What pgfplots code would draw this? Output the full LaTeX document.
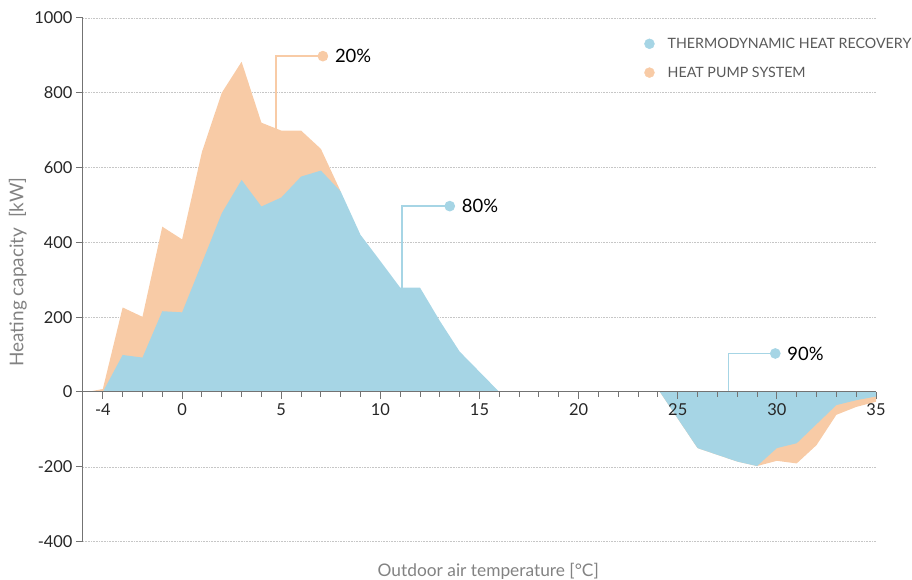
\documentclass[border=0pt]{standalone}
\usepackage{fontspec}
\setmainfont{Lato}
\usepackage{pgfplots}
\pgfplotsset{compat=1.18}
\definecolor{bluec}{RGB}{166,213,229}
\definecolor{orangec}{RGB}{248,203,166}
\definecolor{axisc}{RGB}{115,115,115}
\definecolor{labc}{RGB}{130,130,130}
\begin{document}
\begin{tikzpicture}
\begin{axis}[
  axis on top,
  scale only axis, width=793bp, height=523.6bp,
  xmin=-5, xmax=35, ymin=-400, ymax=1000,
  axis x line=middle, axis y line=left,
  axis line style={-, draw=axisc, line width=1bp},
  xtick={-4,0,5,10,15,20,25,30,35},
  extra x ticks={-3,-2,-1,1,2,3,4,6,7,8,9,11,12,13,14,16,17,18,19,21,22,23,24,26,27,28,29,31,32,33,34},
  extra x tick labels={},
  extra x tick style={major tick length=5bp},
  ytick={-400,-200,0,200,400,600,800,1000},
  tick align=outside,
  major tick length=7bp,
  tick style={draw=axisc, line width=1bp},
  /pgf/number format/assume math mode=true,
  /pgf/number format/1000 sep={},
  tick label style={font=\fontsize{16.5}{18}\selectfont, text=black!85},
  xticklabel style={yshift=-1bp},
  every axis x label/.style={at={(axis description cs:0.511,0)}, anchor=center, yshift=-29.4bp, font=\fontsize{17.4}{19}\selectfont, text=labc},
  every axis y label/.style={at={(axis description cs:-0.082,0.515)}, rotate=90, anchor=center, font=\fontsize{19}{21}\selectfont, text=labc},
  xlabel={Outdoor air temperature [°C]},
  ylabel={Heating capacity\ \ [kW]},
  legend style={at={(axis description cs:0.705,0.970)}, anchor=north west, draw=none, fill=none,
    font=\fontsize{14.3}{16}\selectfont, text=black!65, row sep=13bp, inner sep=2bp},
  legend cell align=left,
]
\addlegendimage{legend image code/.code={\fill[bluec] (0bp,0bp) circle (5bp); \path (16bp,0bp);}}
\addlegendentry{THERMODYNAMIC HEAT RECOVERY}
\addlegendimage{legend image code/.code={\fill[orangec] (0bp,0bp) circle (5bp); \path (16bp,0bp);}}
\addlegendentry{HEAT PUMP SYSTEM}

% horizontal dotted grid (behind the areas)
\pgfplotsinvokeforeach{-400,-200,200,400,600,800,1000}{
  \addplot[densely dotted, gray!45, line width=0.6pt, forget plot] coordinates {(-5,#1)(35,#1)};
}

% heat pump system (total)
\addplot[fill=orangec, draw=none, forget plot] coordinates {
(-4.8,0)(-4,8)(-3,226)(-2,201)(-1,442)(0,408)(1,642)(2,800)(3,883)(4,720)(5,699)(6,699)(7,650)(8,536)
} \closedcycle;
\addplot[fill=orangec, draw=none, forget plot] coordinates {
(24.1,0)(26,-150)(28,-186)(29,-198)(30,-184)(31,-191)(32,-142)(33,-61)(34,-40)(35,-26)
} \closedcycle;

% thermodynamic heat recovery
\addplot[fill=bluec, draw=none, forget plot] coordinates {
(-4,0)(-3,99)(-2,92)(-1,216)(0,213)(1,345)(2,478)(3,567)(4,496)(5,520)(6,576)(7,592)(8,536)(9,420)(10,350)(11,279)(12,279)(13,190)(14,108)(15,54)(16,0)
} \closedcycle;
\addplot[fill=bluec, draw=none, forget plot] coordinates {
(24.1,0)(26,-150)(28,-186)(29,-198)(30,-150)(31,-137)(32,-86)(33,-35)(34,-22)(35,-12)
} \closedcycle;

% callouts
\addplot[orangec, line width=1.6bp, mark=*, mark size=4.5bp, mark options={fill=orangec, draw=orangec}, mark indices={3}, forget plot]
  coordinates {(4.73,702)(4.73,898)(7.1,898)}
  node[pos=1, anchor=west, xshift=8bp, text=black, font=\fontsize{18.5}{20}\selectfont] {20\%};
\addplot[bluec, line width=1.6bp, mark=*, mark size=4.5bp, mark options={fill=bluec, draw=bluec}, mark indices={3}, forget plot]
  coordinates {(11.09,279)(11.09,497)(13.5,497)}
  node[pos=1, anchor=west, xshift=8bp, text=black, font=\fontsize{18.5}{20}\selectfont] {80\%};
\addplot[bluec, line width=1.6bp, mark=*, mark size=4.5bp, mark options={fill=bluec, draw=bluec}, mark indices={3}, forget plot]
  coordinates {(27.55,0)(27.55,103)(29.92,103)}
  node[pos=1, anchor=west, xshift=8bp, text=black, font=\fontsize{18.5}{20}\selectfont] {90\%};
\end{axis}
\pgfresetboundingbox
\useasboundingbox (-83bp,-38.4bp) rectangle (829bp,541.6bp);
\end{tikzpicture}
\end{document}
